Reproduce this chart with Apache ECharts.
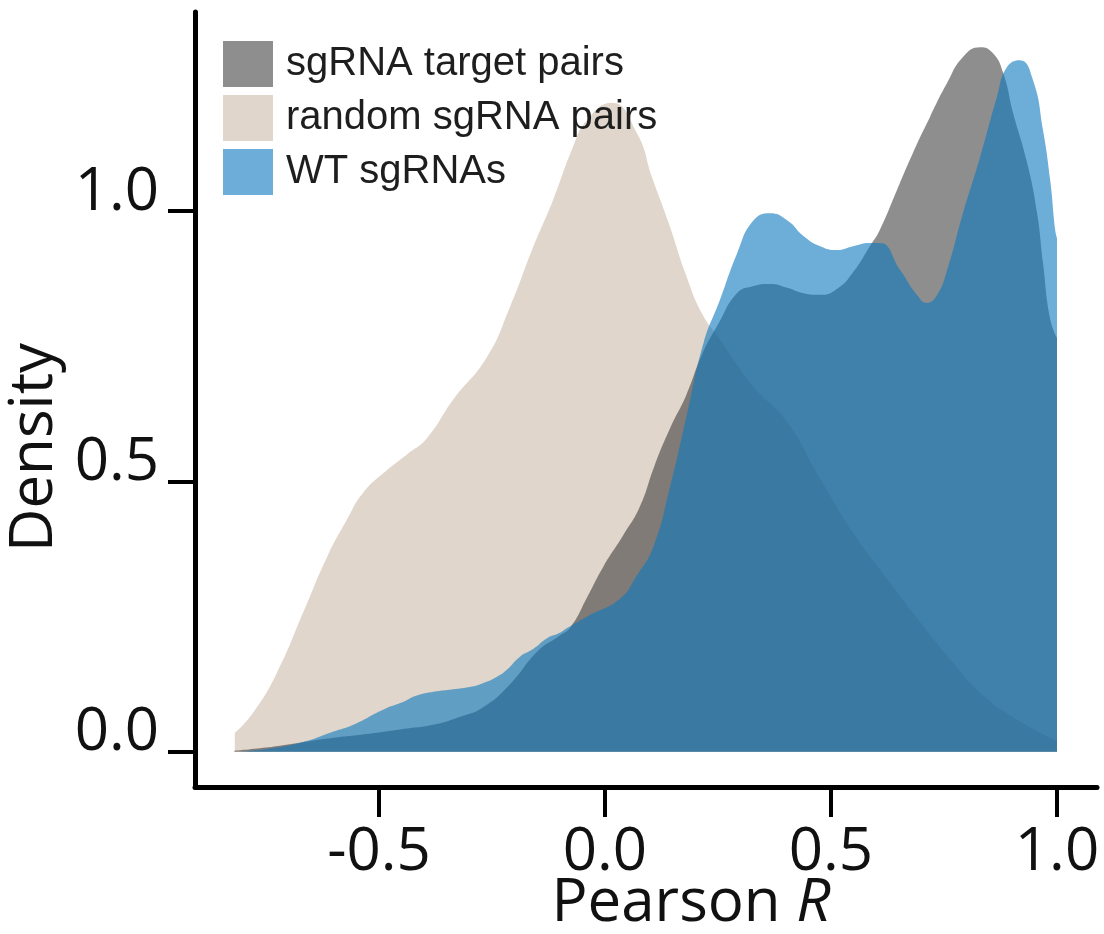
<!DOCTYPE html>
<html>
<head>
<meta charset="utf-8">
<script src="https://cdn.jsdelivr.net/npm/echarts@6/dist/echarts.min.js"></script>
<style>
  html, body { margin: 0; padding: 0; background: #fff; }
  #chart { width: 1104px; height: 934px; }
</style>
</head>
<body>
<div id="chart"></div>
<script>
// ---- data (x = Pearson R, y = density) ----
const seriesNames = ['sgRNA target pairs', 'random sgRNA pairs', 'WT sgRNAs'];

const randomPairs = [
  [-0.819, 0.035], [-0.779, 0.072], [-0.726, 0.146], [-0.668, 0.257], [-0.615, 0.36],
  [-0.571, 0.429], [-0.535, 0.479], [-0.482, 0.521], [-0.438, 0.55], [-0.394, 0.58],
  [-0.336, 0.651], [-0.261, 0.73], [-0.21, 0.823], [-0.159, 0.933], [-0.115, 1.02],
  [-0.071, 1.118], [-0.04, 1.168], [0.015, 1.2], [0.07, 1.145], [0.105, 1.06],
  [0.14, 0.98], [0.18, 0.88], [0.215, 0.81], [0.248, 0.77], [0.327, 0.677],
  [0.403, 0.61], [0.476, 0.505], [0.549, 0.405], [0.624, 0.32], [0.697, 0.24],
  [0.76, 0.175], [0.836, 0.105], [0.911, 0.06], [1.0, 0.02]
];

const targetPairs = [
  [-0.82, 0.002], [-0.75, 0.008], [-0.675, 0.017], [-0.6, 0.026], [-0.527, 0.033],
  [-0.45, 0.042], [-0.38, 0.05], [-0.32, 0.065], [-0.27, 0.082], [-0.21, 0.125],
  [-0.15, 0.185], [-0.1, 0.215], [-0.075, 0.232], [-0.04, 0.285], [-0.004, 0.342],
  [0.04, 0.4], [0.077, 0.453], [0.11, 0.53], [0.145, 0.6], [0.18, 0.66],
  [0.215, 0.735], [0.25, 0.79], [0.292, 0.848], [0.327, 0.861], [0.365, 0.865],
  [0.403, 0.858], [0.439, 0.848], [0.476, 0.845], [0.513, 0.856], [0.549, 0.887],
  [0.586, 0.935], [0.608, 0.965], [0.646, 1.039], [0.681, 1.107], [0.719, 1.174],
  [0.757, 1.237], [0.792, 1.285], [0.83, 1.303], [0.858, 1.292], [0.881, 1.255],
  [0.903, 1.181], [0.934, 1.089], [0.956, 0.996], [0.969, 0.904], [0.985, 0.8],
  [1.0, 0.765]
];

const wtSgRNAs = [
  [-0.82, 0.0], [-0.75, 0.005], [-0.668, 0.018], [-0.602, 0.037], [-0.557, 0.05],
  [-0.491, 0.078], [-0.447, 0.092], [-0.416, 0.104], [-0.372, 0.112], [-0.343, 0.115],
  [-0.299, 0.12], [-0.27, 0.127], [-0.239, 0.139], [-0.217, 0.152], [-0.188, 0.176],
  [-0.159, 0.19], [-0.128, 0.21], [-0.1, 0.22], [-0.084, 0.229], [-0.04, 0.25],
  [0.033, 0.283], [0.07, 0.325], [0.107, 0.379], [0.144, 0.49], [0.181, 0.623],
  [0.218, 0.756], [0.254, 0.835], [0.292, 0.921], [0.327, 0.981], [0.365, 0.996],
  [0.403, 0.983], [0.439, 0.954], [0.476, 0.935], [0.513, 0.928], [0.549, 0.935],
  [0.586, 0.941], [0.608, 0.941], [0.653, 0.891], [0.69, 0.845], [0.712, 0.83],
  [0.735, 0.845], [0.757, 0.891], [0.792, 0.996], [0.83, 1.1], [0.867, 1.211],
  [0.889, 1.266], [0.918, 1.279], [0.947, 1.242], [0.969, 1.15], [0.985, 1.057],
  [0.996, 0.965], [1.0, 0.95]
];

const xTicks = [-0.5, 0.0, 0.5, 1.0];
const yTicks = [0.0, 0.5, 1.0];

// ---- chart ----
const chart = echarts.init(document.getElementById('chart'), null, { renderer: 'canvas' });
const axisFont = "'Open Sans', 'Noto Sans', sans-serif";

const option = {
  animation: false,
  backgroundColor: '#ffffff',
  grid: { left: 195, right: 7, top: 12, bottom: 147, containLabel: false, outerBoundsMode: 'none' },
  legend: {
    orient: 'vertical',
    left: 218,
    top: 36,
    itemWidth: 50,
    itemHeight: 46,
    itemGap: 8,
    icon: 'rect',
    selectedMode: false,
    textStyle: {
      fontFamily: "'Liberation Sans', Arial, sans-serif",
      fontSize: 40,
      color: '#1e1e1e',
      padding: [0, 0, 0, 8]
    },
    data: [
      { name: seriesNames[0], itemStyle: { color: '#8e8e8e' } },
      { name: seriesNames[1], itemStyle: { color: '#e0d6cb' } },
      { name: seriesNames[2], itemStyle: { color: '#6caed9' } }
    ]
  },
  xAxis: {
    type: 'value',
    min: -0.907,
    max: 1.0885,
    name: '{n|Pearson }{r|R}',
    nameLocation: 'middle',
    nameGap: 87,
    nameMoveOverlap: false,
    nameTextStyle: {
      padding: [0, 0, 0, 90],
      rich: {
        n: { fontFamily: axisFont, fontSize: 60, color: '#111' },
        r: { fontFamily: axisFont, fontSize: 60, fontStyle: 'italic', color: '#111' }
      }
    },
    splitLine: { show: false },
    axisLine: { show: true, onZero: false, lineStyle: { color: '#000', width: 5 } },
    axisTick: { show: true, customValues: xTicks, length: 30, lineStyle: { color: '#000', width: 4 } },
    axisLabel: {
      customValues: xTicks,
      formatter: v => Number(v).toFixed(1),
      margin: 36,
      fontFamily: axisFont,
      fontSize: 60,
      color: '#111'
    }
  },
  yAxis: {
    type: 'value',
    min: -0.065,
    max: 1.368,
    name: 'Density',
    nameLocation: 'middle',
    nameGap: 130,
    nameRotate: 90,
    nameMoveOverlap: false,
    nameTextStyle: {
      fontFamily: axisFont,
      fontSize: 60,
      color: '#111',
      padding: [0, 96, 0, 0]
    },
    splitLine: { show: false },
    axisLine: { show: true, onZero: false, lineStyle: { color: '#000', width: 5 } },
    axisTick: { show: true, customValues: yTicks, length: 27, lineStyle: { color: '#000', width: 4 } },
    axisLabel: {
      customValues: yTicks,
      formatter: v => Number(v).toFixed(1),
      margin: 36,
      fontFamily: axisFont,
      fontSize: 60,
      color: '#111',
      verticalAlign: 'bottom',
      lineHeight: 37
    }
  },
  series: [
    {
      name: seriesNames[1],
      type: 'line',
      data: randomPairs,
      smooth: 0.5,
      showSymbol: false,
      color: '#e0d6cb',
      lineStyle: { width: 0, opacity: 0 },
      areaStyle: { color: 'rgb(224,214,203)', opacity: 1 },
      z: 1
    },
    {
      name: seriesNames[0],
      type: 'line',
      data: targetPairs,
      smooth: 0.5,
      showSymbol: false,
      color: '#8e8e8e',
      lineStyle: { width: 0, opacity: 0 },
      areaStyle: { color: 'rgba(50,50,50,0.55)', opacity: 1 },
      z: 2
    },
    {
      name: seriesNames[2],
      type: 'line',
      data: wtSgRNAs,
      smooth: 0.5,
      showSymbol: false,
      color: '#6caed9',
      lineStyle: { width: 0, opacity: 0 },
      areaStyle: { color: 'rgba(12,120,190,0.6)', opacity: 1 },
      z: 3
    }
  ]
};

chart.setOption(option);
</script>
</body>
</html>
